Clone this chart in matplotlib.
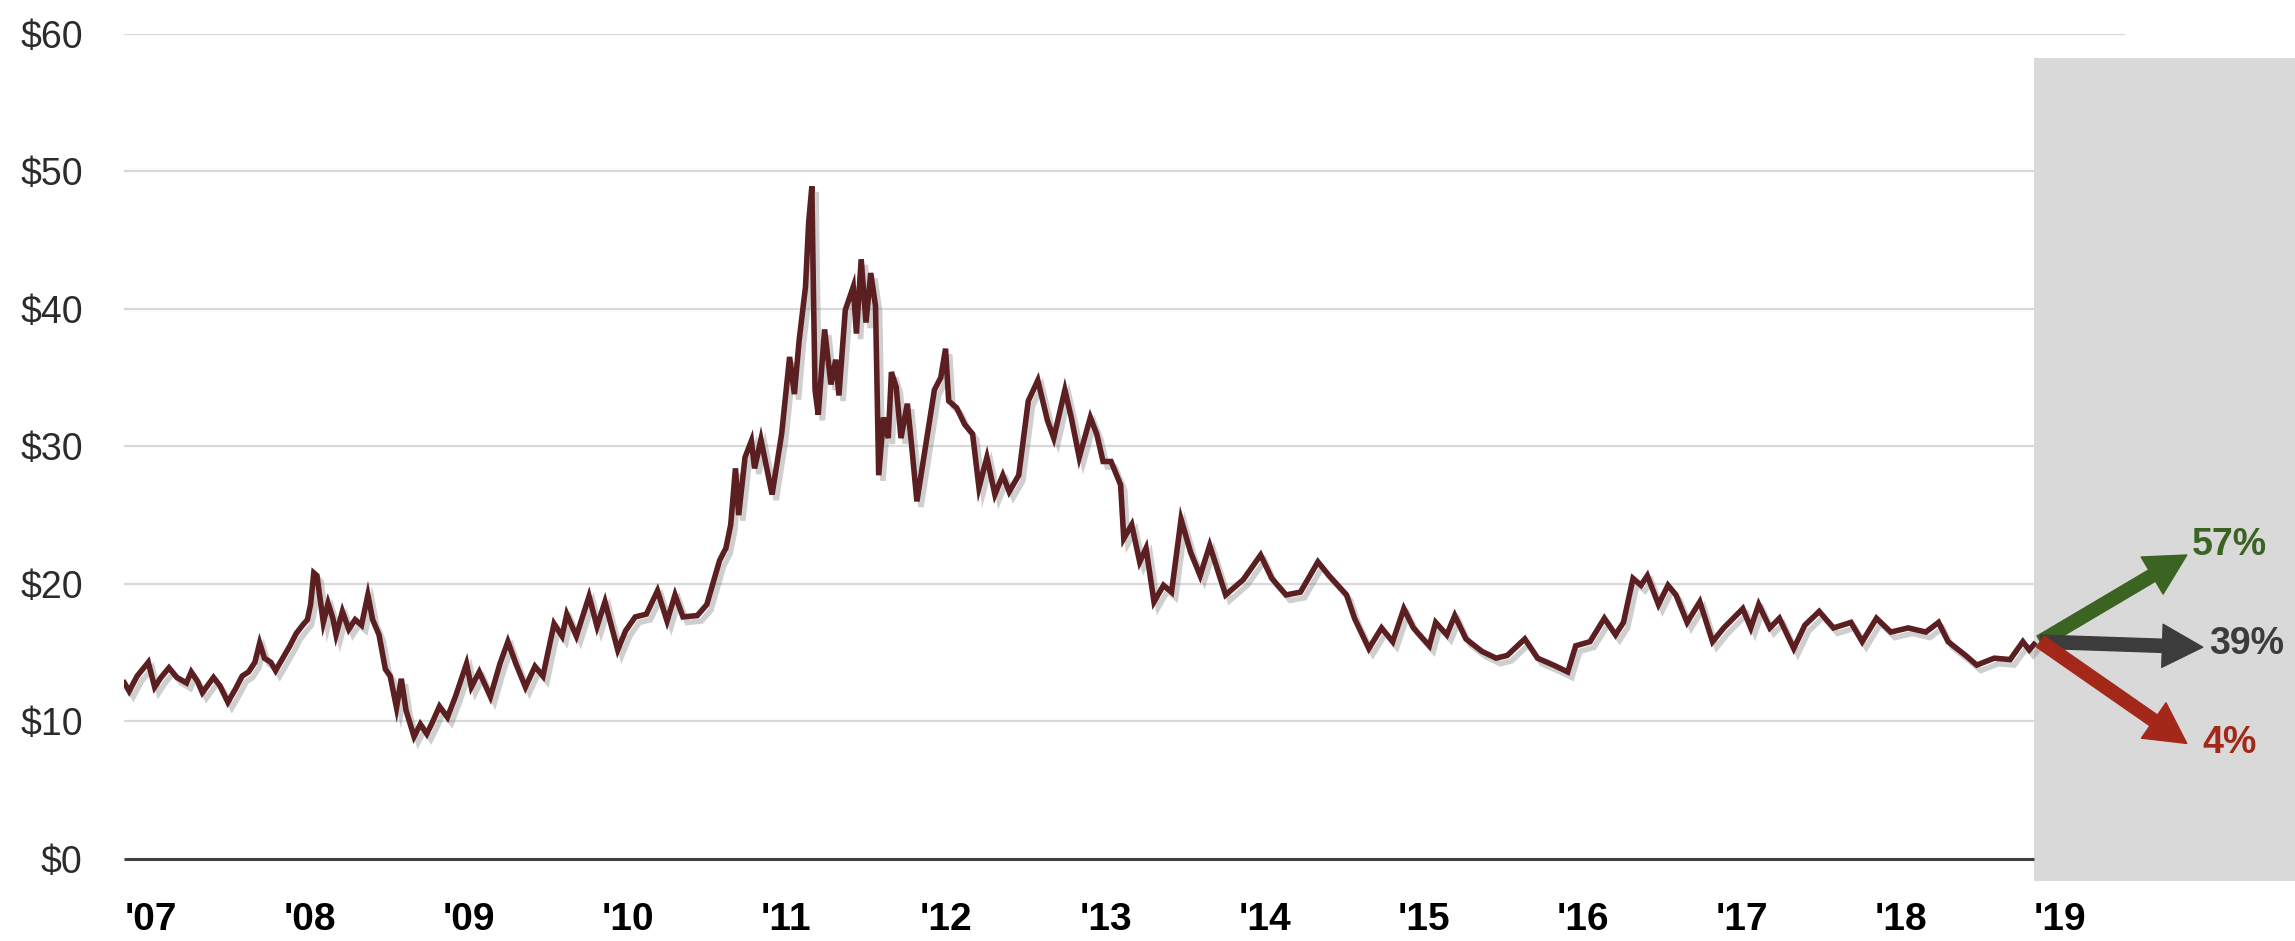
import matplotlib
matplotlib.use("Agg")
import matplotlib.pyplot as plt
import matplotlib.patheffects as pe
from matplotlib.patches import Rectangle

# price series (year fraction, $)
years = [
    2007.00, 2007.03, 2007.08, 2007.15, 2007.19, 2007.23, 2007.28, 2007.33, 2007.39, 2007.42,
    2007.46, 2007.49, 2007.56, 2007.60, 2007.65, 2007.70, 2007.74, 2007.78, 2007.82, 2007.85,
    2007.88, 2007.92, 2007.95, 2007.99, 2008.04, 2008.08, 2008.12, 2008.15, 2008.17, 2008.19,
    2008.21, 2008.25, 2008.28, 2008.31, 2008.33, 2008.37, 2008.41, 2008.45, 2008.49, 2008.53,
    2008.56, 2008.60, 2008.64, 2008.67, 2008.71, 2008.74, 2008.77, 2008.82, 2008.86, 2008.90,
    2008.93, 2008.98, 2009.03, 2009.08, 2009.15, 2009.18, 2009.23, 2009.30, 2009.36, 2009.41,
    2009.46, 2009.52, 2009.58, 2009.63, 2009.70, 2009.75, 2009.78, 2009.84, 2009.92, 2009.97,
    2010.02, 2010.10, 2010.15, 2010.21, 2010.28, 2010.35, 2010.41, 2010.46, 2010.51, 2010.60,
    2010.66, 2010.74, 2010.78, 2010.81, 2010.84, 2010.86, 2010.90, 2010.94, 2010.96, 2011.00,
    2011.07, 2011.13, 2011.18, 2011.21, 2011.24, 2011.28, 2011.30, 2011.32, 2011.33, 2011.34,
    2011.36, 2011.40, 2011.44, 2011.47, 2011.49, 2011.53, 2011.58, 2011.60, 2011.63, 2011.66,
    2011.69, 2011.72, 2011.74, 2011.77, 2011.80, 2011.82, 2011.85, 2011.88, 2011.92, 2011.95,
    2011.98, 2012.03, 2012.09, 2012.13, 2012.16, 2012.18, 2012.23, 2012.28, 2012.33, 2012.37,
    2012.42, 2012.47, 2012.52, 2012.56, 2012.62, 2012.68, 2012.74, 2012.80, 2012.84, 2012.91,
    2012.95, 2013.00, 2013.07, 2013.11, 2013.15, 2013.20, 2013.26, 2013.28, 2013.33, 2013.38,
    2013.42, 2013.47, 2013.53, 2013.58, 2013.64, 2013.70, 2013.76, 2013.82, 2013.92, 2014.03,
    2014.14, 2014.21, 2014.30, 2014.39, 2014.50, 2014.57, 2014.68, 2014.73, 2014.82, 2014.90,
    2014.97, 2015.04, 2015.10, 2015.20, 2015.24, 2015.31, 2015.36, 2015.43, 2015.53, 2015.62,
    2015.69, 2015.80, 2015.88, 2015.98, 2016.07, 2016.12, 2016.21, 2016.30, 2016.37, 2016.42,
    2016.48, 2016.53, 2016.57, 2016.64, 2016.70, 2016.75, 2016.82, 2016.90, 2016.98, 2017.05,
    2017.17, 2017.22, 2017.27, 2017.34, 2017.40, 2017.49, 2017.56, 2017.65, 2017.74, 2017.85,
    2017.92, 2018.01, 2018.10, 2018.21, 2018.32, 2018.40, 2018.46, 2018.57, 2018.64, 2018.75,
    2018.85, 2018.93, 2018.97, 2019.00,
]
prices = [
    12.8, 12.2, 13.3, 14.3, 12.5, 13.2, 13.9, 13.2, 12.8, 13.6,
    12.9, 12.1, 13.2, 12.6, 11.4, 12.4, 13.3, 13.6, 14.3, 15.7,
    14.6, 14.3, 13.7, 14.5, 15.5, 16.4, 17.0, 17.4, 18.5, 20.8,
    20.6, 17.2, 18.6, 17.5, 16.3, 18.0, 16.7, 17.4, 17.0, 19.2,
    17.4, 16.3, 13.8, 13.3, 11.0, 13.1, 10.8, 8.9, 9.8, 9.1,
    9.8, 11.1, 10.3, 11.8, 14.2, 12.5, 13.6, 11.8, 14.2, 15.8,
    14.2, 12.5, 14.0, 13.3, 17.1, 16.2, 17.8, 16.2, 19.1, 16.9,
    18.7, 15.2, 16.6, 17.6, 17.8, 19.5, 17.3, 19.2, 17.6, 17.7,
    18.5, 21.7, 22.6, 24.3, 28.4, 25.0, 29.2, 30.4, 28.4, 30.5,
    26.5, 30.9, 36.5, 33.8, 37.7, 41.6, 46.3, 48.9, 41.1, 34.1,
    32.3, 38.5, 34.5, 36.3, 33.7, 39.9, 41.6, 38.2, 43.6, 39.0,
    42.6, 40.2, 27.9, 32.1, 30.6, 35.4, 34.3, 30.6, 33.1, 29.7,
    26.0, 29.7, 34.1, 35.0, 37.1, 33.3, 32.8, 31.6, 30.9, 27.0,
    29.2, 26.5, 27.9, 26.7, 27.9, 33.3, 34.8, 31.9, 30.6, 34.1,
    32.1, 29.2, 32.1, 30.9, 28.9, 28.9, 27.2, 23.3, 24.3, 21.6,
    22.6, 18.7, 19.9, 19.4, 24.7, 22.3, 20.6, 22.8, 19.2, 20.3,
    22.1, 20.4, 19.2, 19.4, 21.6, 20.6, 19.2, 17.5, 15.3, 16.8,
    15.8, 18.2, 16.8, 15.5, 17.2, 16.3, 17.7, 16.0, 15.1, 14.6,
    14.8, 16.0, 14.6, 14.1, 13.6, 15.5, 15.8, 17.5, 16.3, 17.2,
    20.4, 19.9, 20.6, 18.5, 19.9, 19.2, 17.2, 18.7, 15.8, 16.8,
    18.2, 16.8, 18.5, 16.8, 17.5, 15.3, 17.0, 18.0, 16.8, 17.2,
    15.8, 17.5, 16.5, 16.8, 16.5, 17.2, 15.8, 14.8, 14.1, 14.6,
    14.5, 15.8, 15.2, 15.6,
]

tick_years = list(range(2007, 2020))
tick_labels = ["'07", "'08", "'09", "'10", "'11", "'12", "'13",
               "'14", "'15", "'16", "'17", "'18", "'19"]
y_ticks = [0, 10, 20, 30, 40, 50, 60]
y_labels = ["$0", "$10", "$20", "$30", "$40", "$50", "$60"]

# scenario arrows: label, tip (year, $), text position
scen_labels = ["57%", "39%", "4%"]
scen_tips = [(2019.96, 22.1), (2020.06, 15.4), (2019.96, 8.4)]
scen_text = [(2019.99, 22.8), (2020.10, 15.6), (2020.06, 8.4)]
scen_colors = ["#3b6322", "#3c3c3c", "#a3281a"]
arrow_start = (2019.04, 15.8)

font = ["Liberation Sans", "DejaVu Sans"]

fig = plt.figure(figsize=(22.95, 9.41), dpi=100)
ax = fig.add_axes([124.4 / 2295, 82 / 941, 1 - 124.4 / 2295, 825.3 / 941])
ax.set_xlim(2007, 2020.64)
ax.set_ylim(0, 60)
for s in ax.spines.values():
    s.set_visible(False)

# gridlines
for v in y_ticks[1:]:
    right = 2019.57 if v == 60 else 2019.0
    ax.hlines(v, 2007, right, color="#d9d9d9", lw=1.6, zorder=1)
ax.hlines(0, 2007, 2019, color="#404040", lw=2.2, zorder=2, clip_on=False)

# shaded forecast area
ax.add_patch(Rectangle((2019, -1.6), 1.7, 59.8, facecolor="#d9d9d9",
                       edgecolor="none", zorder=0.5, clip_on=False))

ax.plot(years, prices, color="#5b1f21", lw=4.0, zorder=3, solid_joinstyle="miter",
        path_effects=[pe.SimpleLineShadow(offset=(3, -4), shadow_color="#777777", alpha=0.35),
                      pe.Normal()])

for lbl, tip, tpos, col in zip(scen_labels, scen_tips, scen_text, scen_colors):
    ax.annotate("", xy=tip, xytext=arrow_start,
                arrowprops=dict(arrowstyle="simple,head_length=2.9,head_width=3.1,tail_width=0.95",
                                mutation_scale=10, color=col, shrinkA=0, shrinkB=0),
                zorder=4, annotation_clip=False)
    ax.text(tpos[0], tpos[1], lbl, color=col, fontsize=27, fontweight="bold",
            family=font, ha="left", va="center", zorder=5)

ax.set_xticks(tick_years, tick_labels)
ax.set_yticks(y_ticks, y_labels)
ax.tick_params(axis="both", length=0)
ax.tick_params(axis="x", pad=31)
ax.tick_params(axis="y", pad=30)
for t in ax.get_xticklabels():
    t.set_ha("left")
    t.set_fontsize(28)
    t.set_fontweight("bold")
    t.set_family(font)
    t.set_color("black")
for t in ax.get_yticklabels():
    t.set_fontsize(27)
    t.set_family(font)
    t.set_color("#2b2b2b")

fig.savefig("out.png", dpi=100)
